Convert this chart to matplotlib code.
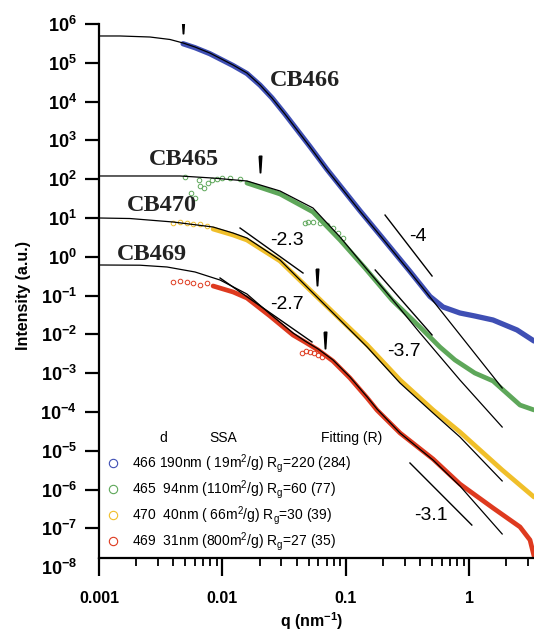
import numpy as np
import matplotlib
matplotlib.use('Agg')
import matplotlib.pyplot as plt
from matplotlib.lines import Line2D
from matplotlib.ticker import FixedLocator, FixedFormatter, LogLocator, NullFormatter, NullLocator

plt.rcParams['font.family'] = ['Liberation Sans', 'DejaVu Sans']
plt.rcParams['mathtext.fontset'] = 'custom'
plt.rcParams['mathtext.rm'] = 'Liberation Sans'
plt.rcParams['mathtext.it'] = 'Liberation Sans:italic'
plt.rcParams['mathtext.bf'] = 'Liberation Sans:bold'

# ---- sample info (legend) ----
samples = ['466', '465', '470', '469']
names = ['CB466', 'CB465', 'CB470', 'CB469']
d_nm = [190, 94, 40, 31]
ssa = [19, 110, 66, 800]
rg = [220, 60, 30, 27]
r_fit = [284, 77, 39, 35]
colors = ['#3f4fb4', '#5ea75a', '#f0bf2a', '#de3a1f']

# ---- CB466 ----
q466_fit = [0.001, 0.00148, 0.00259, 0.00376, 0.0048, 0.0060, 0.0079, 0.0122, 0.0158, 0.0202,
            0.0252, 0.0321, 0.0513, 0.0705, 0.130, 0.200, 0.331, 0.481, 1.85]
I466_fit = [4.91e5, 4.91e5, 4.62e5, 3.99e5, 3.24e5, 2.55e5, 1.79e5, 8.77e4, 5.46e4, 2.68e4,
            1.24e4, 4.79e3, 676, 173, 15.1, 2.88, 0.406, 0.092, 4.16e-4]
q466 = [0.0048, 0.0060, 0.0079, 0.0122, 0.0158, 0.0202, 0.0252, 0.0321, 0.0513, 0.0705, 0.130,
        0.200, 0.331, 0.481, 0.614, 0.841, 1.11, 1.56, 2.44, 3.35]
I466 = [3.1e5, 2.45e5, 1.72e5, 8.5e4, 5.3e4, 2.65e4, 1.25e4, 4.8e3, 690, 178, 15.5,
        2.95, 0.42, 0.095, 0.0508, 0.0356, 0.0298, 0.0235, 0.0130, 0.00676]

# ---- CB465 ----
q465_fit = [0.001, 0.00453, 0.0084, 0.0158, 0.0293, 0.0542, 0.0898, 0.143, 0.237, 0.399, 0.841, 1.85]
I465_fit = [121, 121, 107, 89.9, 49.7, 18.1, 3.24, 0.546, 0.0817, 0.0109, 6.68e-4, 4.10e-5]
q465 = [0.0158, 0.0293, 0.0542, 0.0898, 0.143, 0.237, 0.399, 0.579, 0.767, 1.11, 1.56, 2.58, 3.35]
I465 = [79.8, 41.6, 14.3, 2.71, 0.514, 0.0771, 0.0155, 0.00473, 0.00219, 0.00101, 6.30e-4, 1.51e-4, 1.13e-4]
q465_lo = [0.00498, 0.00557, 0.0060, 0.00646, 0.00658, 0.0071, 0.00764, 0.00824, 0.00904, 0.00993, 0.0115, 0.0139]
I465_lo = [114, 44.1, 32.8, 95.3, 66.8, 59.3, 79.8, 95.3, 101, 107, 107, 101]
q465_mid = [0.0467, 0.0494, 0.0542, 0.0618, 0.0705, 0.0787, 0.0865, 0.0948]
I465_mid = [7.30, 7.89, 7.89, 7.43, 6.60, 5.52, 4.10, 3.05]

# ---- CB470 ----
q470_fit = [0.001, 0.00178, 0.00398, 0.0084, 0.0122, 0.0158, 0.0293, 0.0513, 0.0898, 0.149,
            0.275, 0.509, 0.841, 1.85]
I470_fit = [10, 9.7, 7.89, 5.86, 4.10, 3.05, 0.828, 0.139, 0.0235, 0.00473,
            5.58e-4, 9.42e-5, 2.27e-5, 1.67e-6]
q470 = [0.0084, 0.0122, 0.0158, 0.0293, 0.0513, 0.0898, 0.149, 0.275, 0.509, 0.841, 1.85, 3.35]
I470 = [5.20, 3.65, 2.71, 0.780, 0.139, 0.0249, 0.00533, 6.68e-4, 1.13e-4, 3.05e-5, 3.20e-6, 6.44e-7]
q470_lo = [0.00398, 0.00453, 0.00516, 0.00578, 0.00658, 0.0075]
I470_lo = [7.43, 7.66, 7.43, 7.0, 7.0, 6.2]

# ---- CB469 ----
q469_fit = [0.001, 0.00215, 0.00356, 0.0060, 0.00957, 0.0158, 0.0243, 0.0373, 0.0467, 0.0596,
            0.0787, 0.108, 0.149, 0.179, 0.275, 0.509, 0.841, 1.85]
I469_fit = [0.615, 0.607, 0.546, 0.406, 0.252, 0.110, 0.0336, 0.0109, 0.00676, 0.00421,
            0.00219, 7.98e-4, 2.44e-4, 1.19e-4, 2.88e-5, 5.79e-6, 1.24e-6, 7.18e-8]
q469 = [0.0084, 0.0122, 0.0158, 0.0243, 0.0373, 0.0467, 0.0596, 0.0787, 0.108, 0.149,
        0.179, 0.275, 0.509, 0.841, 1.56, 2.58, 3.11, 3.35]
I469 = [0.177, 0.124, 0.0867, 0.0298, 0.00966, 0.00637, 0.00396, 0.00206, 7.52e-4, 2.30e-4,
        1.12e-4, 2.88e-5, 6.15e-6, 1.39e-6, 3.36e-7, 1.09e-7, 5.02e-8, 1.95e-8]
q469_lo = [0.00398, 0.00453, 0.00516, 0.00578, 0.00658, 0.0075]
I469_lo = [0.224, 0.238, 0.224, 0.211, 0.188, 0.211]
q469_mid = [0.0442, 0.0475, 0.0513, 0.0552, 0.0596, 0.0641]
I469_mid = [0.00332, 0.00373, 0.00352, 0.00332, 0.00294, 0.00262]

# ---- power-law guide segments ----
slope_q = [(0.208, 0.500), (0.0139, 0.0450), (0.00957, 0.0532), (0.173, 0.500), (0.331, 1.05)]
slope_I = [(11.9, 0.320), (5.52, 0.382), (0.284, 0.00637), (0.457, 0.00966), (4.85e-6, 1.22e-7)]
slope_txt = ['-4', '-2.3', '-2.7', '-3.7', '-3.1']
slope_txt_q = [0.385, 0.0334, 0.0334, 0.297, 0.490]
slope_txt_I = [3.24, 2.71, 0.0573, 0.00373, 2.21e-7]

# sample names on the curves
name_q = [0.0467, 0.00489, 0.00325, 0.00269]
name_I = [3.40e4, 313, 20.4, 1.18]

# Guinier knee markers
arrow_q = [0.0048, 0.0202, 0.0585, 0.0677]
arrow_I = [9.4e5, 247, 0.301, 0.00718]

xtick_vals = [0.001, 0.01, 0.1, 1]
xtick_labels = ['0.001', '0.01', '0.1', '1']
ytick_exp = list(range(-8, 7))
ytick_labels = [r'$\mathbf{10^{%d}}$' % e for e in ytick_exp]

axis_floor = 1.73e-8  # where the q axis is drawn

fig = plt.figure(figsize=(5.34, 6.34), dpi=100)
ax = fig.add_axes([99 / 534, (634 - 567.2) / 634, 435 / 534, 543.2 / 634])

bands = [(q466, I466), (q465, I465), (q470, I470), (q469, I469)]
widths = [3.8, 3.4, 3.4, 3.4]
fits = [(q466_fit, I466_fit), (q465_fit, I465_fit), (q470_fit, I470_fit), (q469_fit, I469_fit)]
for (q, I), c, w in zip(bands, colors, widths):
    ax.plot(q, I, color=c, lw=w, solid_capstyle='round', solid_joinstyle='round', zorder=2)

sparse = [(q465_lo, I465_lo, colors[1]), (q465_mid, I465_mid, colors[1]),
          (q470_lo, I470_lo, colors[2]),
          (q469_lo, I469_lo, colors[3]), (q469_mid, I469_mid, colors[3])]
for q, I, c in sparse:
    ax.plot(q, I, 'o', mfc='none', mec=c, ms=3.3, mew=0.7, zorder=2)

for q, I in fits:
    ax.plot(q, I, color='black', lw=0.9, zorder=3)

for (q0, q1), (i0, i1) in zip(slope_q, slope_I):
    ax.plot([q0, q1], [i0, i1], color='black', lw=1.0, zorder=3)
for t, q, I in zip(slope_txt, slope_txt_q, slope_txt_I):
    ax.text(q, I, t, fontsize=14, ha='center', va='center', zorder=4)

for t, q, I in zip(names, name_q, name_I):
    ax.text(q, I, t, fontsize=17.5, fontweight='bold', ha='center', va='center',
            family=['Liberation Serif', 'DejaVu Serif'], color='#222222', zorder=4)

spindle = [(-0.16, 1), (0.16, 1), (0.03, -1), (-0.03, -1), (-0.16, 1)]
ax.plot(arrow_q, arrow_I, ls='none', marker=spindle, ms=12, color='black', zorder=4)

# legend
labels = ['%s %3dnm (%3dm$^{2}$/g) R$_\\mathregular{g}$=%d (%d)' % row
          for row in zip(samples, d_nm, ssa, rg, r_fit)]
handles = [Line2D([], [], ls='none', marker='o', mfc='none', mec=c, ms=6, mew=0.8) for c in colors]
ax.legend(handles, labels, loc='upper left', bbox_to_anchor=(0.016, 0.211), frameon=False,
          fontsize=10, handlelength=1.0, handletextpad=0.9, labelspacing=0.21,
          borderpad=0, borderaxespad=0)
ax.text(0.147, 0.238, 'd', transform=ax.transAxes, fontsize=10, ha='center', va='center')
ax.text(0.285, 0.238, 'SSA', transform=ax.transAxes, fontsize=10, ha='center', va='center')
ax.text(0.651, 0.238, 'Fitting (R)', transform=ax.transAxes, fontsize=10, ha='right', va='center')

# axes
ax.set_xscale('log')
ax.set_yscale('log')
ax.set_xlim(1e-3, 3.35)
ax.set_ylim(1e-8, 1e6)

ax.xaxis.set_major_locator(FixedLocator(xtick_vals))
ax.xaxis.set_major_formatter(FixedFormatter(xtick_labels))
ax.xaxis.set_minor_locator(LogLocator(base=10, subs=np.arange(2, 10)))
ax.xaxis.set_minor_formatter(NullFormatter())
ax.yaxis.set_major_locator(FixedLocator([10.0 ** e for e in ytick_exp]))
ax.yaxis.set_major_formatter(FixedFormatter(ytick_labels))
ax.yaxis.set_minor_locator(NullLocator())

for s in ['top', 'right']:
    ax.spines[s].set_visible(False)
for s in ['left', 'bottom']:
    ax.spines[s].set_linewidth(1.6)
ax.spines['bottom'].set_position(('data', axis_floor))
ax.spines['left'].set_bounds(axis_floor, 1e6)

ax.tick_params(axis='y', which='major', length=10, width=1.6, pad=6, labelsize=13)
ax.tick_params(axis='x', which='major', length=13, width=1.6, pad=11, labelsize=11.5)
ax.tick_params(axis='x', which='minor', length=6, width=1.3)
for lb in ax.get_xticklabels():
    lb.set_fontweight('bold')
ax.yaxis.get_major_ticks()[0].tick1line.set_visible(False)

fig.text(24 / 534, 1 - 295 / 634, 'Intensity (a.u.)', rotation=90, ha='center', va='center',
         fontsize=11.5, fontweight='bold')
fig.text(312 / 534, 1 - 621 / 634, r'q (nm$\mathbf{^{-1}}$)', ha='center', va='center',
         fontsize=11.5, fontweight='bold')

fig.savefig('out.png', dpi=100)
